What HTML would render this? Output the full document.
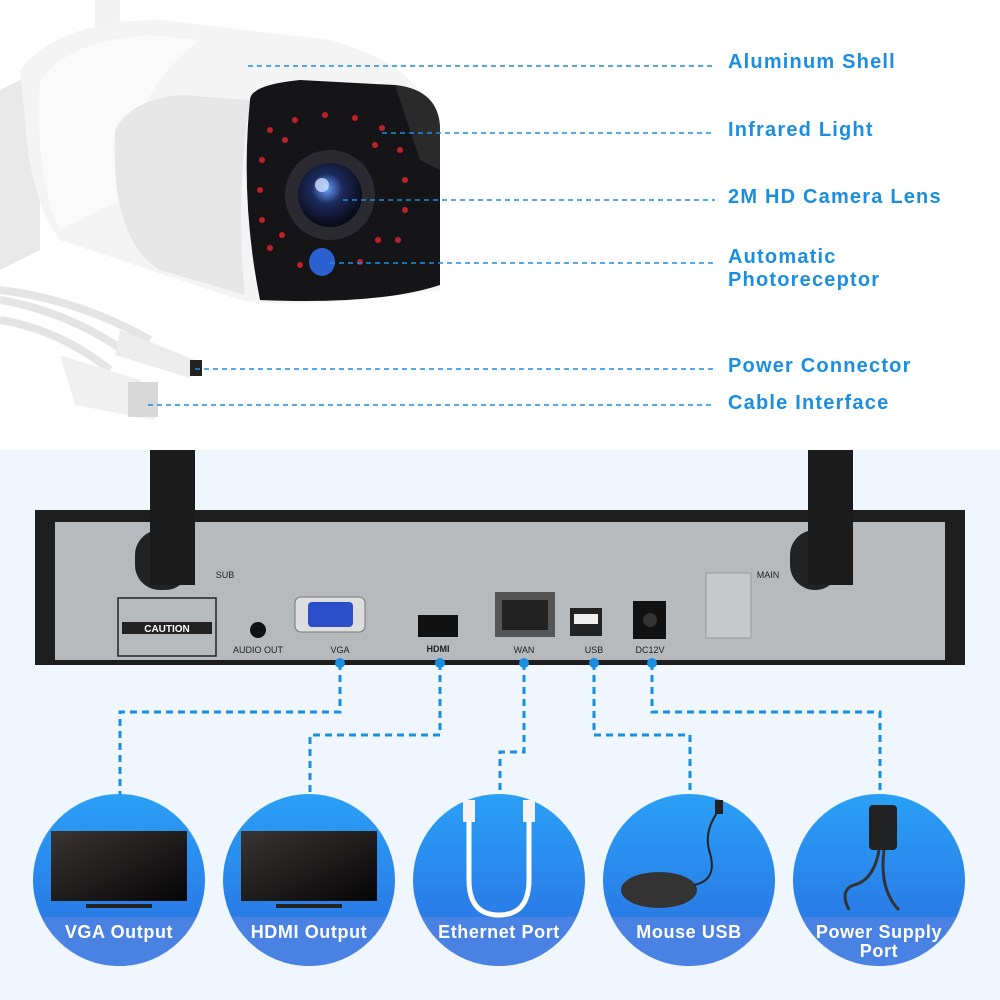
<!DOCTYPE html>
<html><head><meta charset="utf-8"><style>
body{margin:0;width:1000px;height:1000px;overflow:hidden;background:#fff;font-family:"Liberation Sans",sans-serif;position:relative}
.lbl{position:absolute;left:728px;color:#1a8ee0;font-weight:bold;font-size:20px;line-height:23px;letter-spacing:1.2px}
.cap{position:absolute;color:#fff;font-size:18px;font-weight:bold;text-align:center;width:180px;line-height:19px;letter-spacing:0.6px}
</style></head><body>
<div style="position:absolute;left:0;top:450px;width:1000px;height:550px;background:#eff6fd"></div>
<svg width="1000" height="1000" style="position:absolute;left:0;top:0">
<defs>
<radialGradient id="lens" cx="0.45" cy="0.4" r="0.6"><stop offset="0" stop-color="#6aa0ff"/><stop offset="0.4" stop-color="#1c2a5c"/><stop offset="1" stop-color="#0a0a14"/></radialGradient>
<linearGradient id="circ" x1="0" y1="0" x2="0" y2="1"><stop offset="0" stop-color="#2aa0f6"/><stop offset="1" stop-color="#2a6ee0"/></linearGradient>
<linearGradient id="tv" x1="0" y1="0" x2="1" y2="1"><stop offset="0" stop-color="#3a3434"/><stop offset="1" stop-color="#050505"/></linearGradient>
<clipPath id="c1"><circle cx="0" cy="0" r="86"/></clipPath>
</defs>
<!-- camera -->
<path d="M0 90 L40 70 L40 250 L0 270Z" fill="#e8e8e8"/>
<rect x="95" y="0" width="25" height="60" fill="#f2f2f2"/>
<path d="M20 70 Q60 20 160 20 L330 40 Q440 70 440 150 L440 290 Q300 310 240 300 L60 240 Q30 200 25 120Z" fill="#f4f4f4"/>
<path d="M40 80 Q70 40 150 35 L200 40 Q130 90 120 200 L60 230 Q35 180 40 80Z" fill="#fafafa"/>
<path d="M115 130 Q130 100 180 95 L250 100 Q235 200 245 295 L160 270 Q110 240 115 130Z" fill="#e6e6e6"/>
<path d="M250 100 Q250 85 300 80 L395 85 Q440 90 440 130 L440 285 Q380 305 260 300 Q240 200 250 100Z" fill="#151518"/>
<path d="M395 85 Q440 90 440 130 L440 170 L420 160 Z" fill="#2a2a2a"/>
<circle cx="330" cy="195" r="45" fill="#2a2a30"/>
<circle cx="330" cy="195" r="32" fill="url(#lens)"/>
<circle cx="322" cy="185" r="7" fill="#cfe0ff" opacity="0.8"/>
<ellipse cx="322" cy="262" rx="13" ry="14" fill="#2c5fd0"/>
<g fill="#c0202a">
<circle cx="270" cy="130" r="3"/><circle cx="295" cy="120" r="3"/><circle cx="325" cy="115" r="3"/><circle cx="355" cy="118" r="3"/><circle cx="382" cy="128" r="3"/><circle cx="400" cy="150" r="3"/><circle cx="405" cy="180" r="3"/><circle cx="405" cy="210" r="3"/><circle cx="398" cy="240" r="3"/><circle cx="262" cy="160" r="3"/><circle cx="260" cy="190" r="3"/><circle cx="262" cy="220" r="3"/><circle cx="270" cy="248" r="3"/><circle cx="285" cy="140" r="3"/><circle cx="375" cy="145" r="3"/><circle cx="282" cy="235" r="3"/><circle cx="378" cy="240" r="3"/><circle cx="300" cy="265" r="3"/><circle cx="360" cy="262" r="3"/>
</g>
<!-- cables -->
<path d="M0 290 Q80 300 150 340 M0 320 Q60 330 110 370 M0 300 Q70 312 130 355" stroke="#e4e4e4" stroke-width="8" fill="none"/>
<path d="M120 330 L195 360 L190 378 L115 355Z" fill="#ececec"/>
<rect x="190" y="360" width="12" height="16" fill="#222"/>
<path d="M60 355 L140 380 L155 420 L75 405Z" fill="#f0f0f0"/>
<rect x="128" y="382" width="30" height="35" fill="#d8d8d8"/>
<g stroke="#1a8ee0" stroke-width="1.5" stroke-dasharray="5,4" fill="none">
<line x1="248" y1="66" x2="715" y2="66"/><line x1="382" y1="133" x2="715" y2="133"/><line x1="343" y1="200" x2="715" y2="200"/><line x1="330" y1="263" x2="715" y2="263"/><line x1="195" y1="369" x2="715" y2="369"/><line x1="148" y1="405" x2="715" y2="405"/>
</g>
<!-- NVR -->
<path d="M35 510 L965 510 L965 665 L35 665Z" fill="#1e1e1e"/>
<rect x="55" y="522" width="890" height="138" fill="#b7babd"/>
<rect x="135" y="530" width="55" height="60" rx="25" fill="#222"/>
<rect x="790" y="530" width="50" height="60" rx="25" fill="#222"/>
<rect x="150" y="450" width="45" height="135" fill="#1b1b1b"/>
<rect x="808" y="450" width="45" height="135" fill="#1b1b1b"/>
<rect x="118" y="598" width="98" height="58" fill="none" stroke="#222" stroke-width="1.5"/>
<rect x="122" y="622" width="90" height="12" fill="#222"/>
<text x="167" y="632" font-size="10" fill="#fff" text-anchor="middle" font-weight="bold" font-family="Liberation Sans">CAUTION</text>
<circle cx="258" cy="630" r="8" fill="#111"/>
<rect x="295" y="597" width="70" height="35" rx="6" fill="#ddd" stroke="#777"/>
<rect x="308" y="602" width="45" height="25" rx="4" fill="#2b4fc8"/>
<rect x="418" y="615" width="40" height="22" fill="#111"/>
<rect x="495" y="592" width="60" height="45" fill="#555"/><rect x="502" y="600" width="46" height="30" fill="#222"/>
<rect x="570" y="608" width="32" height="28" fill="#222"/><rect x="574" y="614" width="24" height="10" fill="#eee"/>
<rect x="633" y="601" width="33" height="38" fill="#111"/><circle cx="650" cy="620" r="7" fill="#333"/>
<rect x="706" y="573" width="45" height="65" fill="#c6c8ca" stroke="#999"/>
<g font-size="9" fill="#222" font-family="Liberation Sans" text-anchor="middle">
<text x="258" y="653">AUDIO OUT</text><text x="340" y="653">VGA</text><text x="438" y="652" font-weight="bold">HDMI</text><text x="524" y="653">WAN</text><text x="594" y="653">USB</text><text x="650" y="653">DC12V</text><text x="225" y="578">SUB</text><text x="768" y="578">MAIN</text>
</g>
<!-- connectors -->
<g fill="#1a8ee0"><circle cx="340" cy="663" r="5"/><circle cx="440" cy="663" r="5"/><circle cx="524" cy="663" r="5"/><circle cx="594" cy="663" r="5"/><circle cx="652" cy="663" r="5"/></g>
<g stroke="#1a8ee0" stroke-width="3" stroke-dasharray="7,5" fill="none">
<polyline points="340,663 340,712 120,712 120,795"/>
<polyline points="440,663 440,735 310,735 310,795"/>
<polyline points="524,663 524,752 500,752 500,795"/>
<polyline points="594,663 594,735 690,735 690,795"/>
<polyline points="652,663 652,712 880,712 880,795"/>
</g>
<!-- circles -->
<g transform="translate(119,880)"><circle r="86" fill="url(#circ)"/><rect x="-90" y="37" width="180" height="60" fill="#4a82e4" clip-path="url(#c1)"/>
<rect x="-68" y="-49" width="136" height="70" fill="url(#tv)"/><rect x="-33" y="24" width="66" height="4" fill="#222"/></g>
<g transform="translate(309,880)"><circle r="86" fill="url(#circ)"/><rect x="-90" y="37" width="180" height="60" fill="#4a82e4" clip-path="url(#c1)"/>
<rect x="-68" y="-49" width="136" height="70" fill="url(#tv)"/><rect x="-33" y="24" width="66" height="4" fill="#222"/></g>
<g transform="translate(499,880)"><circle r="86" fill="url(#circ)"/><rect x="-90" y="37" width="180" height="60" fill="#4a82e4" clip-path="url(#c1)"/>
<path d="M-30 -60 L-30 0 Q-30 35 0 35 Q30 35 30 0 L30 -60" stroke="#fff" stroke-width="5" fill="none"/>
<rect x="-36" y="-80" width="12" height="22" fill="#f4f4f4"/><rect x="24" y="-80" width="12" height="22" fill="#f4f4f4"/></g>
<g transform="translate(689,880)"><circle r="86" fill="url(#circ)"/><rect x="-90" y="37" width="180" height="60" fill="#4a82e4" clip-path="url(#c1)"/>
<ellipse cx="-30" cy="10" rx="38" ry="18" fill="#333"/><path d="M5 5 Q30 0 20 -30 Q15 -50 30 -70" stroke="#222" stroke-width="2" fill="none"/><rect x="26" y="-80" width="8" height="14" fill="#222"/></g>
<g transform="translate(879,880)"><circle r="86" fill="url(#circ)"/><rect x="-90" y="37" width="180" height="60" fill="#4a82e4" clip-path="url(#c1)"/>
<rect x="-10" y="-75" width="28" height="45" rx="4" fill="#222"/><path d="M0 -30 Q-5 0 -25 5 Q-40 10 -30 30 M5 -30 Q0 10 20 30" stroke="#333" stroke-width="3" fill="none"/></g>
</svg>
<div class="lbl" style="top:51px">Aluminum Shell</div>
<div class="lbl" style="top:119px">Infrared Light</div>
<div class="lbl" style="top:186px">2M HD Camera Lens</div>
<div class="lbl" style="top:246px">Automatic<br>Photoreceptor</div>
<div class="lbl" style="top:355px">Power Connector</div>
<div class="lbl" style="top:392px">Cable Interface</div>
<div class="cap" style="left:29px;top:923px">VGA Output</div>
<div class="cap" style="left:219px;top:923px">HDMI Output</div>
<div class="cap" style="left:409px;top:923px">Ethernet Port</div>
<div class="cap" style="left:599px;top:923px">Mouse USB</div>
<div class="cap" style="left:789px;top:923px">Power Supply<br>Port</div>
</body></html>
